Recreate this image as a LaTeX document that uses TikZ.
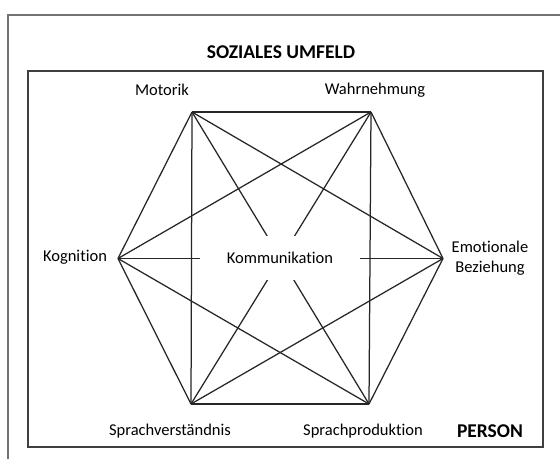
\documentclass[tikz,border=0pt]{standalone}
\usepackage{fontspec}
\setmainfont{Carlito}[Ligatures=NoCommon]
\begin{document}
\begin{tikzpicture}[x=1pt,y=-1pt,
  frame/.style={draw=black!75,line width=1.3pt},
  outerframe/.style={draw=black!55,line width=1.2pt},
  link/.style={draw=black!85,line width=1.25pt},
  lbl/.style={inner sep=0pt,font=\fontsize{16.5}{20}\selectfont},
  title/.style={inner sep=0pt,font=\fontsize{19.5}{23}\selectfont\bfseries}]
\useasboundingbox[fill=white] (0,0) rectangle (560,459);
% frames
\draw[outerframe] (8,459) -- (8,15) -- (560,15);
\draw[frame] (28,71) rectangle (543,447);
% vertices
\coordinate (TL) at (192,112);
\coordinate (TR) at (371,112);
\coordinate (L) at (118,258.5);
\coordinate (R) at (443,258.5);
\coordinate (BL) at (191,404);
\coordinate (BR) at (369,404);
% complete graph
\foreach \a/\b in {TL/TR,TR/R,R/BR,BR/BL,BL/L,L/TL,TL/BL,TR/BR,TL/BR,TR/BL,L/TR,L/BR,R/TL,R/BL,L/R}
  \draw[link] (\a) -- (\b);
% centre label
\node[lbl,fill=white,minimum width=160pt,minimum height=44pt] (komm) at (280,258) {Kommunikation};
% labels
\node[title] (soz) at (281,52) {SOZIALES UMFELD};
\node[lbl] (mot) at (162,90) {Motorik};
\node[lbl] (wahr) at (375,90) {Wahrnehmung};
\node[lbl] (kog) at (75,257) {Kognition};
\node[lbl,align=center] (emo) at (490,258) {Emotionale\\Beziehung};
\node[lbl] (sv) at (170,431) {Sprachverständnis};
\node[lbl] (sp) at (363,431) {Sprachproduktion};
\node[title] (pers) at (490,431) {PERSON};
\end{tikzpicture}
\end{document}
